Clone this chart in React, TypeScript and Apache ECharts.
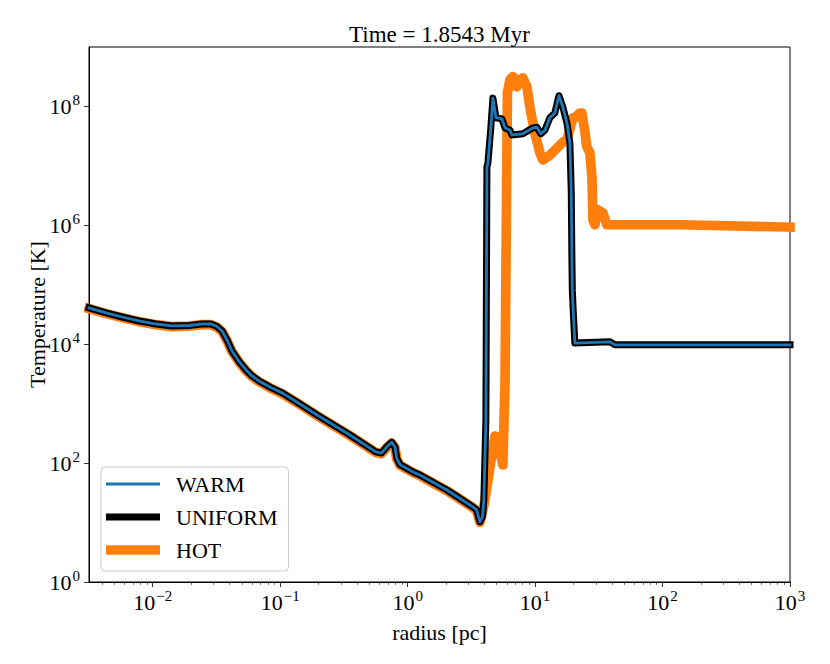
import React, { useEffect, useRef } from 'react';
import * as echarts from 'echarts';

const FONT = '"Liberation Serif", "Times New Roman", serif';
const titleText = 'Time = 1.8543 Myr';
const xAxisName = 'radius [pc]';
const yAxisName = 'Temperature [K]';
const xTickValues = [0.01, 0.1, 1, 10, 100, 1000];
const yTickValues = [1, 1e2, 1e4, 1e6, 1e8];

const warmRadius = [0.003162, 0.004305, 0.005754, 0.007816, 0.01062, 0.01416, 0.01928, 0.02438, 0.02864, 0.03192, 0.03499, 0.03828, 0.04188, 0.04753, 0.05395, 0.06012, 0.06823, 0.08318, 0.1052, 0.1429, 0.1945, 0.3524, 0.5623, 0.6237, 0.6839, 0.7499, 0.7962, 0.8222, 0.871, 1.102, 1.247, 2.032, 3.251, 3.475, 3.690, 3.873, 3.963, 4.111, 4.188, 4.266, 4.498, 4.667, 4.932, 5.495, 5.808, 6.353, 6.577, 8.017, 9.616, 10.33, 11.09, 11.94, 13.06, 14.29, 15.38, 16.52, 17.78, 18.75, 19.23, 19.41, 19.59, 19.95, 20.51, 38.64, 42.27, 1000];
const warmTemp = [40740, 33570, 28710, 24600, 21880, 20280, 20650, 21880, 21880, 19860, 16710, 11780, 7691, 5129, 3690, 2924, 2410, 1900, 1490, 988, 645.7, 297.2, 154.9, 147.9, 186.2, 223.9, 186.2, 120.2, 94.4, 70.96, 63.1, 35.32, 18.28, 16.3, 10.3, 12.6, 24, 530.9, 9.55e6, 1.122e7, 4.467e7, 1.38e8, 6.457e7, 6.166e7, 4.365e7, 3.981e7, 3.311e7, 3.467e7, 4.365e7, 4.467e7, 3.467e7, 3.981e7, 6.457e7, 7.762e7, 1.514e8, 9.772e7, 5.248e7, 2.455e7, 3.467e6, 3.89e5, 8.128e4, 3.388e4, 1.047e4, 1.096e4, 9772, 9772];

// UNIFORM coincides with WARM
const uniformRadius = warmRadius;
const uniformTemp = warmTemp;

const hotRadius = [0.003162, 0.004305, 0.005754, 0.007816, 0.01062, 0.01416, 0.01928, 0.02438, 0.02864, 0.03192, 0.03499, 0.03828, 0.04188, 0.04753, 0.05395, 0.06012, 0.06823, 0.08318, 0.1052, 0.1429, 0.1945, 0.3524, 0.5623, 0.6237, 0.6839, 0.7499, 0.7962, 0.8222, 0.871, 1.102, 1.247, 2.032, 3.251, 3.475, 3.690, 3.981, 4.426, 4.842, 5.012, 5.585, 5.808, 6.012, 6.067, 6.353, 6.699, 7.194, 7.603, 8.017, 8.630, 9.099, 9.954, 10.91, 11.51, 13.06, 14.83, 16.52, 17.78, 19.82, 20.51, 22.44, 23.28, 24.6, 25.47, 26.92, 27.93, 28.44, 29.44, 31.12, 34.04, 36.56, 136.8, 1000];
const hotTemp = [39700, 32700, 28000, 24000, 21330, 19770, 20130, 21330, 21330, 19360, 16290, 11490, 7500, 5000, 3600, 2850, 2350, 1852, 1453, 963, 630, 290, 151, 144, 181.5, 218, 181.5, 117, 92, 69.2, 61.5, 34.4, 17.8, 15.9, 10.05, 19.95, 86.1, 285.8, 275.4, 92.9, 2239, 1.862e7, 1.698e8, 2.818e8, 3.162e8, 2.138e8, 2.818e8, 3.02e8, 2.138e8, 9.772e7, 3.548e7, 1.66e7, 1.259e7, 1.514e7, 1.995e7, 2.512e7, 2.754e7, 6.457e7, 6.457e7, 7.762e7, 7.762e7, 3.715e7, 2.089e7, 1.66e7, 6.457e6, 1.23e6, 1.023e6, 1.82e6, 1.622e6, 1.023e6, 1.023e6, 9.33e5];

const seriesNames = ['WARM', 'UNIFORM', 'HOT'];
const seriesColors = ['#1f77b4', '#000000', '#ff7f0e'];
const seriesWidths = [2.8, 7, 9.7];

const zip = (xs: number[], ys: number[]) => xs.map((x, i) => [x, ys[i]]);

const powLabel = (v: number) => {
  const e = Math.round(Math.log10(v));
  if (Math.abs(Math.log10(v) - e) > 1e-6) return '';
  return `{b|10}{s|${e < 0 ? '\u2212' : ''}${Math.abs(e)}}`;
};

const rich = {
  b: { fontFamily: FONT, fontSize: 22, lineHeight: 28, color: '#000' },
  s: { fontFamily: FONT, fontSize: 15, lineHeight: 15, padding: [0, 0, 13, 1], color: '#000' },
};

// legend icon: a bar of given thickness plus a tiny far point to widen the icon box (text gap)
const legendIcon = (h: number) => `path://M0,0H54V${h}H0ZM64.9,${h / 2}H65V${h / 2 + 0.01}H64.9Z`;

export default function App() {
  const ref = useRef<HTMLDivElement>(null);
  useEffect(() => {
    if (!ref.current) return;
    const chart = echarts.init(ref.current, null, { renderer: 'svg' });
    const mkSeries = (idx: number, xs: number[], ys: number[], z: number) => ({
      name: seriesNames[idx],
      type: 'line',
      data: zip(xs, ys),
      showSymbol: false,
      symbol: 'none',
      silent: true,
      z,
      color: seriesColors[idx],
      lineStyle: { color: seriesColors[idx], width: seriesWidths[idx], join: 'round', cap: 'square' },
      itemStyle: { color: seriesColors[idx] },
    });
    chart.setOption({
      animation: false,
      backgroundColor: '#ffffff',
      grid: { left: 89, right: 40, top: 47, bottom: 82, show: true, borderColor: '#000', borderWidth: 1, backgroundColor: 'transparent' },
      graphic: [
        {
          type: 'text', x: 439.5, y: 34, z: 10,
          style: { text: titleText, fontFamily: FONT, fontSize: 23, fill: '#000', align: 'center', verticalAlign: 'middle' },
        },
      ],
      legend: {
        orient: 'vertical', left: 101, top: 467,
        padding: [6, 11, 10, 5], itemGap: 11, itemWidth: 65, itemHeight: 10,
        symbolKeepAspect: true, selectedMode: false,
        backgroundColor: 'rgba(255,255,255,0.8)', borderColor: '#cccccc', borderWidth: 1, borderRadius: 4,
        textStyle: { fontFamily: FONT, fontSize: 22, lineHeight: 22, color: '#000' },
        data: [
          { name: 'WARM', icon: legendIcon(2.8), itemStyle: { color: seriesColors[0], borderWidth: 0 } },
          { name: 'UNIFORM', icon: legendIcon(7), itemStyle: { color: seriesColors[1], borderWidth: 0 } },
          { name: 'HOT', icon: legendIcon(9.7), itemStyle: { color: seriesColors[2], borderWidth: 0 } },
        ],
      },
      xAxis: {
        type: 'log', logBase: 10, min: Math.pow(10, -2.5), max: 1000,
        name: xAxisName, nameLocation: 'middle', nameGap: 39, nameMoveOverlap: false,
        nameTextStyle: { fontFamily: FONT, fontSize: 22, color: '#000' },
        axisLine: { show: true, lineStyle: { color: '#000', width: 1 } },
        axisTick: { show: true, inside: false, length: 5, lineStyle: { color: '#000', width: 0.8 }, customValues: xTickValues },
        minorTick: { show: true, splitNumber: 9, length: 2.8, lineStyle: { color: '#000', width: 0.6 } },
        axisLabel: { margin: 6, formatter: powLabel, rich, customValues: xTickValues },
        splitLine: { show: false },
        minorSplitLine: { show: false },
      },
      yAxis: {
        type: 'log', logBase: 10, min: 1, max: 1e9,
        name: yAxisName, nameLocation: 'middle', nameGap: 41, nameRotate: 90, nameMoveOverlap: false,
        nameTextStyle: { fontFamily: FONT, fontSize: 22, color: '#000' },
        axisLine: { show: true, lineStyle: { color: '#000', width: 1 } },
        axisTick: { show: true, inside: false, length: 5, lineStyle: { color: '#000', width: 0.8 }, customValues: yTickValues },
        minorTick: { show: false },
        axisLabel: { margin: 9, formatter: powLabel, rich, customValues: yTickValues },
        splitLine: { show: false },
        minorSplitLine: { show: false },
      },
      series: [
        mkSeries(2, hotRadius, hotTemp, 2),
        mkSeries(1, uniformRadius, uniformTemp, 3),
        mkSeries(0, warmRadius, warmTemp, 4),
      ],
    });
    return () => chart.dispose();
  }, []);
  return <div ref={ref} style={{ position: 'fixed', left: 0, top: 0, width: 830, height: 664, background: '#fff' }} />;
}
